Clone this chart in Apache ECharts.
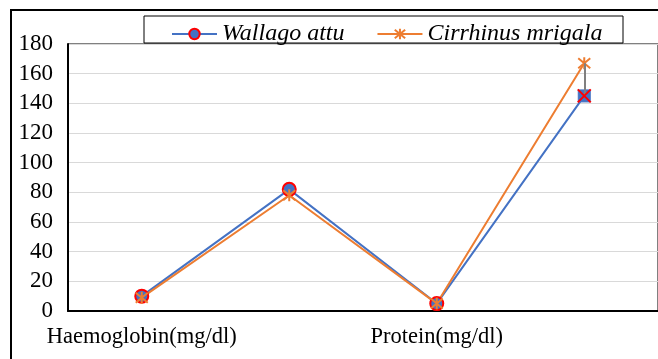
<!DOCTYPE html>
<html>
<head>
<meta charset="utf-8">
<script src="https://cdn.jsdelivr.net/npm/echarts@6/dist/echarts.min.js"></script>
<style>
  html, body { margin: 0; padding: 0; background: #fff; }
  #chart { width: 658px; height: 359px; }
</style>
</head>
<body>
<div id="chart"></div>
<script>
// categories (2nd and 4th have no label in the original)
const categories = ['Haemoglobin(mg/dl)', '', 'Protein(mg/dl)', ''];
const wallago = [10, 82, 5, 145];
const cirrhinus = [9, 78, 5, 167];
const yTicks = { min: 0, max: 180, step: 20 };

const serif = '"Liberation Serif", "Times New Roman", serif';
const starPath = 'path://M0,0L10,10M10,0L0,10M5,-1L5,11';
const crossPath = 'path://M0,0L10,10M10,0L0,10';

const myChart = echarts.init(document.getElementById('chart'));
const last = categories.length - 1;

myChart.setOption({
  animation: false,
  graphic: [
    {
      type: 'rect',
      shape: { x: 11, y: 10, width: 700, height: 400 },
      style: { fill: 'none', stroke: '#000', lineWidth: 2 },
      z: 0
    },
    {
      type: 'rect',
      shape: { x: 144, y: 16, width: 479, height: 27 },
      style: { fill: '#fff', stroke: '#000', lineWidth: 1 },
      z: 10
    }
  ],
  legend: {
    data: ['Wallago attu', 'Cirrhinus mrigala'],
    left: 166,
    top: 17,
    itemWidth: 45,
    itemHeight: 13,
    itemGap: 32,
    z: 20,
    textStyle: { fontFamily: serif, fontStyle: 'italic', fontSize: 24, color: '#000' }
  },
  grid: {
    left: 68,
    right: -3,
    top: 44,
    bottom: 48,
    show: true,
    borderColor: '#000',
    borderWidth: 1
  },
  xAxis: {
    type: 'category',
    data: categories,
    boundaryGap: true,
    axisLine: { lineStyle: { color: '#000', width: 2 } },
    axisTick: { show: false },
    axisLabel: { interval: 0, margin: 15, fontFamily: serif, fontSize: 22.5, color: '#000' }
  },
  yAxis: {
    type: 'value',
    min: yTicks.min,
    max: yTicks.max,
    interval: yTicks.step,
    axisLine: { show: true, lineStyle: { color: '#000', width: 2 } },
    axisTick: { show: false },
    splitLine: { lineStyle: { color: '#d9d9d9', width: 1 } },
    axisLabel: { margin: 15, fontFamily: serif, fontSize: 23, color: '#000' }
  },
  series: [
    {
      name: 'Wallago attu',
      type: 'line',
      data: wallago.map((v, i) => i === last
        ? { value: v, symbol: 'rect', symbolSize: 12, itemStyle: { borderColor: '#4472C4', borderWidth: 1 } }
        : v),
      symbol: 'circle',
      symbolSize: 13,
      lineStyle: { color: '#4472C4', width: 2 },
      itemStyle: { color: '#4472C4', borderColor: '#FF0000', borderWidth: 2 },
      markLine: {
        silent: true,
        symbol: 'none',
        label: { show: false },
        lineStyle: { color: '#808080', width: 2, type: 'solid' },
        data: [[{ coord: [last, wallago[last]] }, { coord: [last, cirrhinus[last]] }]]
      },
      markPoint: {
        silent: true,
        symbol: crossPath,
        symbolSize: 13,
        label: { show: false },
        itemStyle: { color: 'none', borderColor: '#FF0000', borderWidth: 2 },
        data: [{ coord: [last, wallago[last]] }]
      }
    },
    {
      name: 'Cirrhinus mrigala',
      type: 'line',
      data: cirrhinus,
      symbol: starPath,
      symbolSize: 12,
      lineStyle: { color: '#ED7D31', width: 2 },
      itemStyle: { color: '#ED7D31', borderColor: '#ED7D31', borderWidth: 2 }
    }
  ]
});
</script>
</body>
</html>
